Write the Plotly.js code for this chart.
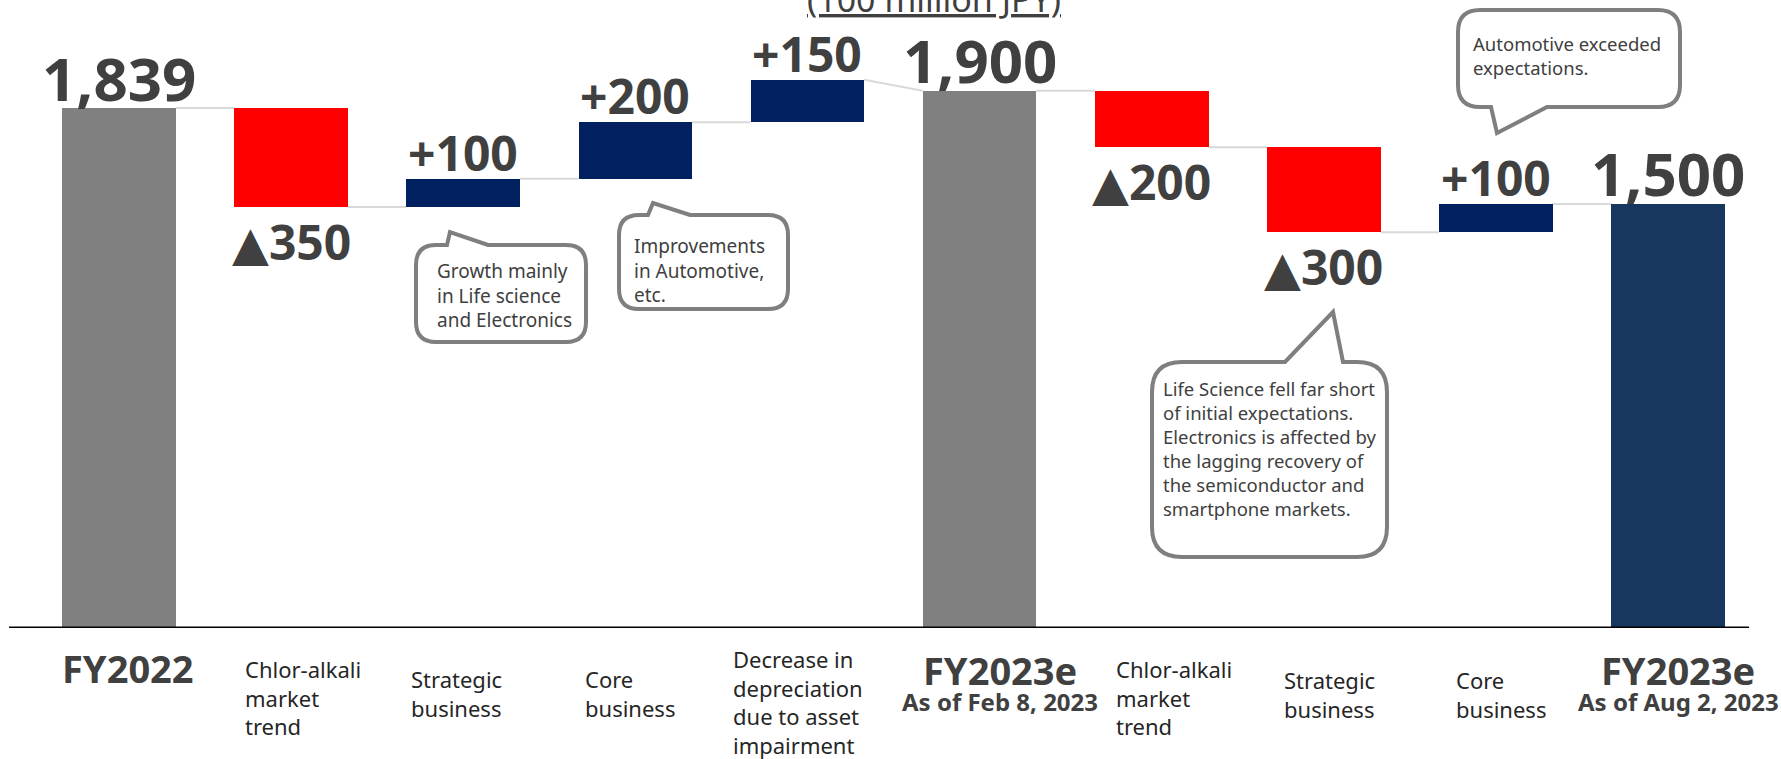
<!DOCTYPE html>
<html>
<head>
<meta charset="utf-8">
<script src="https://cdn.plot.ly/plotly-3.0.1.min.js"></script>
<style>html,body{margin:0;padding:0;background:#fff;}#chart{width:1781px;height:759px;}</style>
</head>
<body>
<div id="chart"></div>
<script>
// ---------------- DATA ----------------
const categories = ['FY2022', 'Chlor-alkali<br>market<br>trend', 'Strategic<br>business', 'Core<br>business',
  'Decrease in<br>depreciation<br>due to asset<br>impairment', 'FY2023e', 'Chlor-alkali<br>market<br>trend',
  'Strategic<br>business', 'Core<br>business', 'FY2023e'];
const subtitles = ['', '', '', '', '', 'As of Feb 8, 2023', '', '', '', 'As of Aug 2, 2023'];
const measures = ['total', 'delta', 'delta', 'delta', 'delta', 'total', 'delta', 'delta', 'delta', 'total'];
const values = [1839, -350, 100, 200, 150, 1900, -200, -300, 100, 1500];
const unitLabel = '(100 million JPY)';
const notes = [
  'Growth mainly<br>in Life science<br>and Electronics',
  'Improvements<br>in Automotive,<br>etc.',
  'Life Science fell far short<br>of initial expectations.<br>Electronics is affected by<br>the lagging recovery of<br>the semiconductor and<br>smartphone markets.',
  'Automotive exceeded<br>expectations.'
];

// ---------------- LAYOUT CONSTANTS ----------------
const W = 1781, H = 759;
const PL = 11, PR = 1749, PT = 6, PB = 628;   // plot area in px
const XR = [-0.627, 9.47], YR = [0, 2200];
const BARW = 0.66;
const FONT = 'Noto Sans, Open Sans, DejaVu Sans, sans-serif';
const TXT = '#404040';
const px2x = px => (px - PL) / (PR - PL);
const py2y = py => (PB - py) / (PB - PT);

// ---------------- DERIVED WATERFALL ----------------
const n = values.length;
const bases = [], heights = [], levelIn = [], levelOut = [], colors = [], labels = [];
let run = 0;
for (let i = 0; i < n; i++) {
  const v = values[i];
  if (measures[i] === 'total') {
    bases.push(0); heights.push(v); levelIn.push(v); levelOut.push(v); run = v;
    colors.push(i === n - 1 ? '#17375e' : '#808080');
    labels.push(v.toLocaleString('en-US'));
  } else {
    const s = run, e = run + v;
    bases.push(Math.min(s, e)); heights.push(Math.abs(v)); levelIn.push(s); levelOut.push(e); run = e;
    colors.push(v > 0 ? '#002060' : '#ff0000');
    labels.push((v > 0 ? '+' : '\u25B2') + Math.abs(v));
  }
}
const idx = values.map((_, i) => i);

const traces = [{
  type: 'bar', x: idx, y: heights, base: bases, width: BARW,
  marker: {color: colors, line: {width: 0}}, hoverinfo: 'skip'
}];

// connectors
const shapes = [];
for (let i = 0; i < n - 1; i++) {
  shapes.push({type: 'line', xref: 'x', yref: 'y', x0: i + BARW / 2, x1: i + 1 - BARW / 2,
    y0: levelOut[i], y1: levelIn[i + 1], line: {color: '#d9d9d9', width: 2}, layer: 'below'});
}
// baseline axis
shapes.push({type: 'line', xref: 'paper', yref: 'y', x0: px2x(9), x1: 1, y0: 0, y1: 0,
  line: {color: '#000', width: 3}, layer: 'above'});

// value labels
const annotations = [];
for (let i = 0; i < n; i++) {
  const isTotal = measures[i] === 'total';
  const s = isTotal ? 60 : 48;
  const top = bases[i] + heights[i];
  if (isTotal || values[i] > 0) {
    annotations.push({xref: 'x', yref: 'y', x: i, y: top, yanchor: 'bottom', xanchor: 'center',
      yshift: (isTotal ? 7 : 8) - 0.293 * s - 2, showarrow: false, text: '<b>' + labels[i] + '</b>',
      font: {family: FONT, size: s, color: TXT}});
  } else {
    annotations.push({xref: 'x', yref: 'y', x: i, y: bases[i], yanchor: 'top', xanchor: 'center',
      yshift: -(19 - 2 - 0.355 * s), showarrow: false, text: '<b>' + labels[i] + '</b>',
      font: {family: FONT, size: s, color: TXT}});
  }
}

// category labels (pixel layout)
const catPos = [
  {x: 128, cap: 655, anchor: 'center'},
  {x: 245, cap: 662, anchor: 'left'},
  {x: 411, cap: 672, anchor: 'left'},
  {x: 585, cap: 672, anchor: 'left'},
  {x: 733, cap: 652, anchor: 'left'},
  {x: 1000, cap: 657, anchor: 'center'},
  {x: 1116, cap: 662, anchor: 'left'},
  {x: 1284, cap: 673, anchor: 'left'},
  {x: 1456, cap: 673, anchor: 'left'},
  {x: 1678, cap: 657, anchor: 'center'}
];
for (let i = 0; i < n; i++) {
  const p = catPos[i];
  const isTotal = measures[i] === 'total';
  const s = isTotal ? 38 : 22;
  annotations.push({xref: 'paper', yref: 'paper', x: px2x(p.anchor === 'left' ? p.x - 2 : p.x),
    y: py2y(p.cap - 2 - 0.355 * s), xanchor: p.anchor, yanchor: 'top', align: 'left', showarrow: false,
    text: isTotal ? '<b>' + categories[i] + '</b>' : categories[i],
    font: {family: FONT, size: s, color: isTotal ? TXT : '#262626'}});
  if (subtitles[i]) {
    annotations.push({xref: 'paper', yref: 'paper', x: px2x(p.x), y: py2y(694 - 2 - 0.355 * 24),
      xanchor: 'center', yanchor: 'top', showarrow: false, text: '<b>' + subtitles[i] + '</b>',
      font: {family: FONT, size: 24, color: TXT}});
  }
}

// unit label
annotations.push({xref: 'paper', yref: 'paper', x: px2x(934), y: py2y(12 + 0.293 * 34 + 2),
  xanchor: 'center', yanchor: 'bottom', showarrow: false, text: '<u>' + unitLabel + '</u>',
  font: {family: FONT, size: 34, color: TXT}});

// speech bubbles
function P(x, y) { return px2x(x).toFixed(5) + ',' + py2y(y).toFixed(5); }
function bubble(l, t, r, b, rad, ptr, side) {
  let d = 'M' + P(l + rad, t);
  if (side === 'top') { ptr.forEach(q => { d += ' L' + P(q[0], q[1]); }); }
  d += ' L' + P(r - rad, t) + ' Q' + P(r, t) + ' ' + P(r, t + rad);
  d += ' L' + P(r, b - rad) + ' Q' + P(r, b) + ' ' + P(r - rad, b);
  if (side === 'bottom') { ptr.forEach(q => { d += ' L' + P(q[0], q[1]); }); }
  d += ' L' + P(l + rad, b) + ' Q' + P(l, b) + ' ' + P(l, b - rad);
  d += ' L' + P(l, t + rad) + ' Q' + P(l, t) + ' ' + P(l + rad, t) + ' Z';
  return d;
}
const bubbles = [
  {box: [416, 245, 586, 342], rad: 20, side: 'top', ptr: [[447, 245], [450, 232], [488, 245]], text: [437, 265], size: 19},
  {box: [619, 215, 788, 309], rad: 20, side: 'top', ptr: [[648, 215], [653, 203], [690, 215]], text: [634, 240], size: 19},
  {box: [1152, 362, 1387, 557], rad: 30, side: 'top', ptr: [[1285, 362], [1333, 312], [1343, 362]], text: [1163, 383], size: 18.5},
  {box: [1458, 10, 1680, 107], rad: 22, side: 'bottom', ptr: [[1547, 107], [1497, 133], [1491, 107]], text: [1473, 38], size: 18.5}
];
bubbles.forEach((bb, k) => {
  shapes.push({type: 'path', xref: 'paper', yref: 'paper',
    path: bubble(bb.box[0], bb.box[1], bb.box[2], bb.box[3], bb.rad, bb.ptr, bb.side),
    fillcolor: '#ffffff', line: {color: '#7f7f7f', width: 4}, layer: 'above'});
  annotations.push({xref: 'paper', yref: 'paper', x: px2x(bb.text[0] - 2), y: py2y(bb.text[1] - 2 - 0.355 * bb.size),
    xanchor: 'left', yanchor: 'top', align: 'left', showarrow: false, text: notes[k],
    font: {family: FONT, size: bb.size, color: TXT}});
});

const layout = {
  width: W, height: H, autosize: false,
  margin: {l: PL, r: W - PR, t: PT, b: H - PB, pad: 0},
  paper_bgcolor: '#ffffff', plot_bgcolor: '#ffffff', showlegend: false,
  xaxis: {range: XR, visible: false, fixedrange: true},
  yaxis: {range: YR, visible: false, fixedrange: true},
  shapes: shapes, annotations: annotations, bargap: 0
};
Plotly.newPlot('chart', traces, layout, {displayModeBar: false, staticPlot: true});
</script>
</body>
</html>
